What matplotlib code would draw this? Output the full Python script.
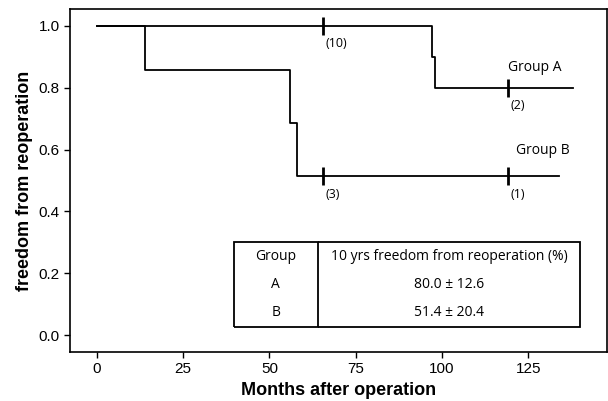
import matplotlib
matplotlib.use("Agg")
import matplotlib.pyplot as plt

# Kaplan-Meier steps
a_time = [0, 97, 98, 138]
a_surv = [1.0, 0.90, 0.80, 0.80]
b_time = [0, 14, 56, 58, 134]
b_surv = [1.0, 0.857, 0.686, 0.514, 0.514]

# censor marks and the numbers at risk
a_cens = [65.6, 119.2]
a_cens_lab = ["(10)", "(2)"]
b_cens = [65.6, 119.2]
b_cens_lab = ["(3)", "(1)"]

xticks = [0, 25, 50, 75, 100, 125]
yticks = [0.0, 0.2, 0.4, 0.6, 0.8, 1.0]

tab_cols = ["Group", "10 yrs freedom from reoperation (%)"]
tab_rows = [["A", "80.0 \u00b1 12.6"], ["B", "51.4 \u00b1 20.4"]]

ann_font = "Open Sans"

fig = plt.figure(figsize=(6.08, 4.01), dpi=100)
ax = fig.add_axes([70 / 608, 1 - 352 / 401, 537 / 608, 343 / 401])

ax.step(a_time, a_surv, where="post", color="black", lw=1.3)
ax.step(b_time, b_surv, where="post", color="black", lw=1.3)

def surv_at(t, times, surv):
    v = surv[0]
    for tt, s in zip(times, surv):
        if t >= tt:
            v = s
    return v

for t, lab in zip(a_cens, a_cens_lab):
    y = surv_at(t, a_time, a_surv)
    ax.plot([t], [y], marker="|", ms=13, mew=2, color="black")
    ax.text(t + 0.6, y - 0.058, lab, fontsize=9, family=ann_font, va="center", ha="left")
for t, lab in zip(b_cens, b_cens_lab):
    y = surv_at(t, b_time, b_surv)
    ax.plot([t], [y], marker="|", ms=13, mew=2, color="black")
    ax.text(t + 0.6, y - 0.058, lab, fontsize=9, family=ann_font, va="center", ha="left")

ax.text(119.2, 0.865, "Group A", fontsize=10, family=ann_font, va="center", ha="left")
ax.text(121.5, 0.597, "Group B", fontsize=10, family=ann_font, va="center", ha="left")

tbl = ax.table(cellText=tab_rows, colLabels=tab_cols, cellLoc="center",
               bbox=[(39.7 + 7.8) / 155.6, (0.026 + 0.055) / 1.11,
                     (140 - 39.7) / 155.6, (0.301 - 0.026) / 1.11],
               colWidths=[24.3, 76])
tbl.auto_set_font_size(False)
nrows = len(tab_rows) + 1
for (r, c), cell in tbl.get_celld().items():
    cell.get_text().set_fontsize(10)
    cell.get_text().set_family(ann_font)
    cell.set_linewidth(1.3)
    e = "L" if c == 0 else ""
    e += "R"
    if r == 0:
        e += "T"
        cell.get_text().set_y(0.6)
    if r == nrows - 1:
        e += "B"
    cell.visible_edges = e

ax.set_xlim(-7.8, 147.8)
ax.set_ylim(-0.055, 1.055)
ax.set_xticks(xticks)
ax.set_yticks(yticks)
ax.set_yticklabels([f"{v:.1f}" for v in yticks])
ax.tick_params(labelsize=11, length=4, width=1, direction="out")
for lbl in ax.get_xticklabels() + ax.get_yticklabels():
    lbl.set_family("Liberation Sans")
for s in ax.spines.values():
    s.set_linewidth(1.2)

ax.set_xlabel("Months after operation", fontsize=13, fontweight="bold", family="Liberation Sans", labelpad=4)
ax.set_ylabel("freedom from reoperation", fontsize=13, fontweight="bold", family="Liberation Sans", labelpad=4)

fig.savefig("out.png", dpi=100)
